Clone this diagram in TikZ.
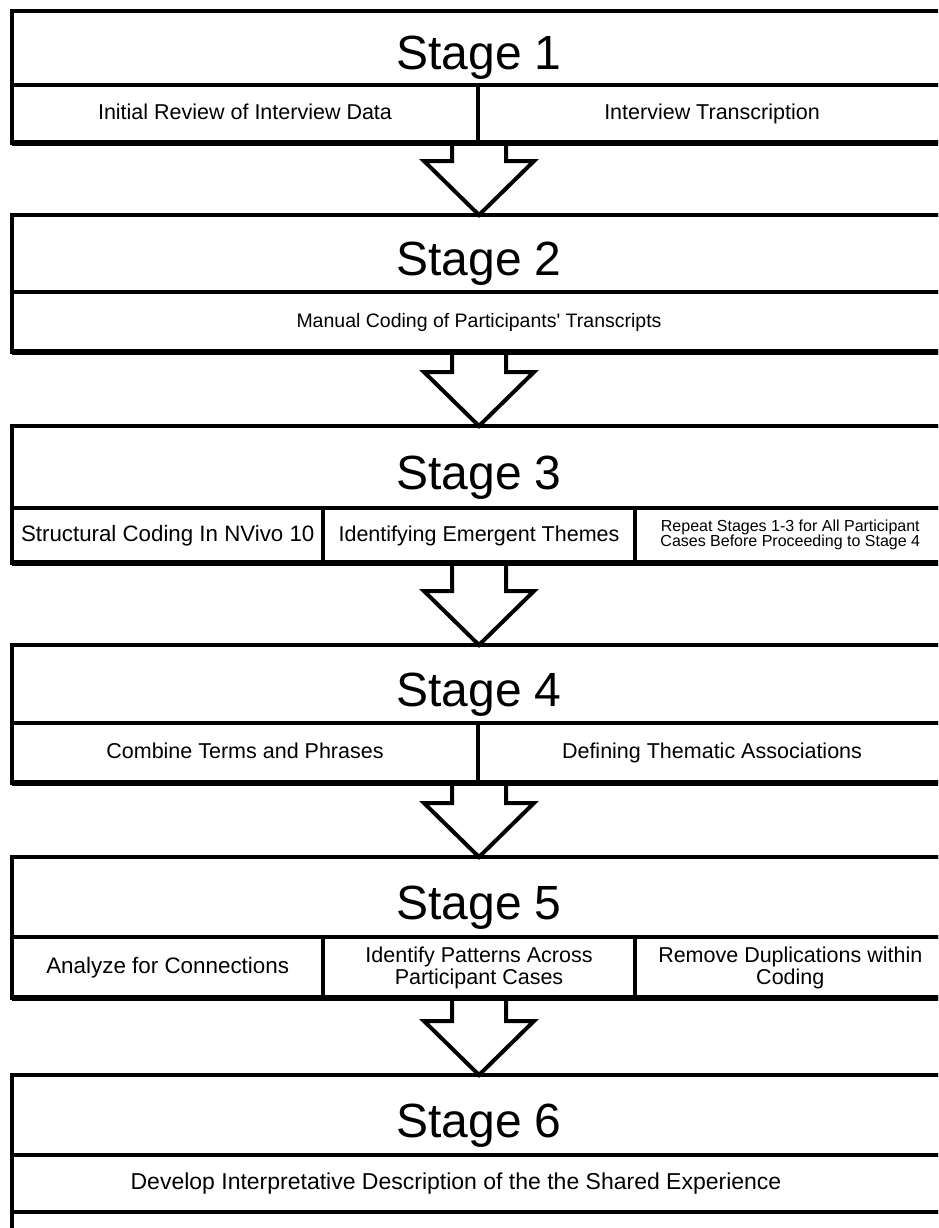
\documentclass[tikz,border=0pt]{standalone}
\usepackage{fontspec}
\setmainfont{Liberation Sans}
\usetikzlibrary{calc}
\newcommand\stgfnt{\fontsize{48}{54}\selectfont}
\newcommand\subfnt{\fontsize{21.5}{22}\selectfont}
\newcommand\smallfnt{\fontsize{16}{15}\selectfont}
\tikzset{
  stagebox/.style={draw, line width=4pt, outer sep=0pt, inner sep=0pt,
    minimum width=934pt, font=\stgfnt, text height=44pt, text depth=0pt},
  subbox/.style={draw, line width=4pt, outer sep=0pt, inner sep=0pt,
    align=center, font=\subfnt, text height=15.5pt, text depth=4.5pt},
  tworow/.style={text height=37.5pt, text depth=4.5pt},
  rowbottom/.style={line width=6pt},
  blockarr/.style={draw, fill=white, line width=4pt}
}
\newcommand\blockarrow[3]{% #1 upper stage node, #2 row node, #3 lower stage node
  \filldraw[blockarr] ($(#1.center |- #2.south)+(-27,0)$) -- ($(#3.north)+(-27,-54)$)
    -- ($(#3.north)+(-55,-54)$) -- (#3.north) -- ($(#3.north)+(55,-54)$)
    -- ($(#3.north)+(27,-54)$) -- ($(#1.center |- #2.south)+(27,0)$);
}
\begin{document}
\begin{tikzpicture}[x=1pt,y=-1pt]
\useasboundingbox (0,0) rectangle (938,1228);
\clip (0,0) rectangle (938,1228);
\fill[white] (0,0) rectangle (938,1228);

% ---------- Stage 1 ----------
\node[stagebox, minimum height=74pt] (s1) at (479,48) {Stage 1};
\node[subbox, minimum width=466pt, minimum height=58pt] (s1a) at (245,114) {Initial Review of Interview Data};
\node[subbox, minimum width=468pt, minimum height=58pt] (s1b) at (712,114) {Interview Transcription};

% ---------- Stage 2 ----------
\node[stagebox, minimum height=77pt] (s2) at (479,253.5) {Stage 2};
\node[subbox, minimum width=934pt, minimum height=60pt, font=\fontsize{19.5}{22}\selectfont] (s2a) at (479,322) {Manual Coding of Participants\textquotesingle\ Transcripts};

% ---------- Stage 3 ----------
\node[stagebox, minimum height=82pt] (s3) at (479,467) {Stage 3};
\node[subbox, minimum width=311.3pt, minimum height=55pt, font=\fontsize{22.3}{24}\selectfont] (s3a) at (167.7,535.5) {Structural Coding In NVivo 10};
\node[subbox, minimum width=311.3pt, minimum height=55pt] (s3b) at (479,535.5) {Identifying Emergent Themes};
\node[subbox, minimum width=311.3pt, minimum height=55pt, font=\smallfnt, text height=26pt, text depth=3.5pt] (s3c) at (790.3,535.5) {Repeat Stages 1-3 for All Participant\\Cases Before Proceeding to Stage 4};

% ---------- Stage 4 ----------
\node[stagebox, minimum height=78pt] (s4) at (479,684) {Stage 4};
\node[subbox, minimum width=466pt, minimum height=60pt] (s4a) at (245,753) {Combine Terms and Phrases};
\node[subbox, minimum width=468pt, minimum height=60pt] (s4b) at (712,753) {Defining Thematic Associations};

% ---------- Stage 5 ----------
\node[stagebox, minimum height=80pt] (s5) at (479,897) {Stage 5};
\node[subbox, minimum width=311.3pt, minimum height=61pt, font=\fontsize{22.4}{24}\selectfont] (s5a) at (167.7,967.5) {Analyze for Connections};
\node[subbox, tworow, minimum width=311.3pt, minimum height=61pt] (s5b) at (479,967.5) {Identify Patterns Across\\Participant Cases};
\node[subbox, tworow, minimum width=311.3pt, minimum height=61pt] (s5c) at (790.3,967.5) {Remove Duplications within\\Coding};

% ---------- Stage 6 ----------
\node[stagebox, minimum height=80pt] (s6) at (479,1115) {Stage 6};
\node[subbox, minimum width=934pt, minimum height=57pt, font=\fontsize{23}{24}\selectfont] (s6a) at (479,1183.5) {Develop Interpretative Description of the the Shared Experience\hspace*{46pt}};
\node[subbox, minimum width=934pt, minimum height=80pt] (s6b) at (479,1252) {};

% ---------- arrows ----------
\blockarrow{s1}{s1a}{s2}
\blockarrow{s2}{s2a}{s3}
\blockarrow{s3}{s3a}{s4}
\blockarrow{s4}{s4a}{s5}
\blockarrow{s5}{s5a}{s6}

% row bottoms and stage tops drawn over the arrows
\draw[rowbottom] (s1a.south west) -- (s1b.south east);
\draw[rowbottom] (s2a.south west) -- (s2a.south east);
\draw[rowbottom] (s3a.south west) -- (s3c.south east);
\draw[rowbottom] (s4a.south west) -- (s4b.south east);
\draw[rowbottom] (s5a.south west) -- (s5c.south east);
\draw[line width=4pt] (s2.north west) -- (s2.north east);
\draw[line width=4pt] (s3.north west) -- (s3.north east);
\draw[line width=4pt] (s4.north west) -- (s4.north east);
\draw[line width=4pt] (s5.north west) -- (s5.north east);
\draw[line width=4pt] (s6.north west) -- (s6.north east);
\end{tikzpicture}
\end{document}
